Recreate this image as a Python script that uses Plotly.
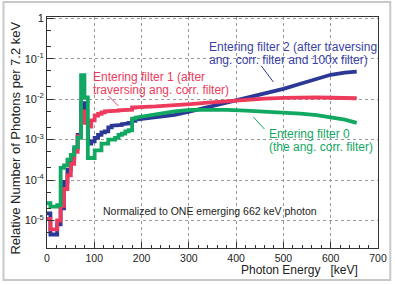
import plotly.graph_objects as go

# ---------------- data ----------------
# Low-energy histogram part: bin left edges [keV] and contents
step_edges = [0, 7.2, 14.4, 21.6, 28.8, 36.0, 43.2, 50.4, 57.6, 64.8, 72.0, 79.2, 86.4, 93.6,
              100.8, 108.0, 115.2, 122.4, 129.6, 136.8, 144.0, 151.2, 158.4, 165.6, 172.8, 180.0]

f0_steps = [2.7e-5, 2.2e-5, 2.2e-5, 2.4e-5, 2.0e-4, 2.3e-4, 3.2e-4, 4.2e-4, 6.5e-4, 1.1e-3, 3.9e-2, 1.1e-2,
            3.5e-4, 3.5e-4, 5.4e-4, 5.4e-4, 7.9e-4, 7.9e-4, 1.0e-3, 1.0e-3, 1.1e-3, 1.3e-3, 1.4e-3, 1.6e-3,
            1.7e-3, 3.3e-3]
f1_steps = [1.1e-5, 6.0e-6, 6.0e-6, 1.0e-5, 2.3e-5, 6.0e-5, 1.3e-4, 2.5e-4, 5.0e-4, 1.2e-3, 5.0e-3, 2.6e-3,
            2.1e-3, 3.0e-3, 3.9e-3, 4.3e-3, 4.7e-3, 5.0e-3, 5.1e-3, 5.2e-3, 5.2e-3, 5.3e-3, 5.3e-3, 5.4e-3,
            5.5e-3, 6.2e-3]
f2_steps = [1.5e-5, 4.5e-6, 4.5e-6, 8.0e-6, 2.0e-5, 9.0e-5, 1.8e-4, 3.5e-4, 6.0e-4, 1.3e-3, 8.0e-3, 2.8e-3,
            8.0e-4, 9.0e-4, 1.1e-3, 1.3e-3, 1.5e-3, 1.6e-3, 2.0e-3, 2.2e-3, 2.2e-3, 2.3e-3, 2.4e-3, 2.5e-3,
            2.6e-3, 2.9e-3]

# Higher-energy part (fine 7.2 keV bins, appear smooth)
smooth_E = [187.2, 230, 270, 303, 340, 380, 420, 460, 500, 536, 570, 600, 630, 655]
f0_smooth = [3.5e-3, 4.2e-3, 5.0e-3, 5.4e-3, 5.5e-3, 5.4e-3, 5.2e-3, 5.0e-3, 4.7e-3, 4.4e-3, 4.0e-3, 3.6e-3, 3.1e-3, 2.6e-3]
f1_smooth = [6.3e-3, 6.6e-3, 7.0e-3, 7.5e-3, 8.2e-3, 9.0e-3, 9.7e-3, 1.03e-2, 1.07e-2, 1.1e-2, 1.1e-2, 1.08e-2, 1.07e-2, 1.05e-2]
f2_smooth = [3.1e-3, 3.5e-3, 4.1e-3, 5.0e-3, 6.3e-3, 8.3e-3, 1.05e-2, 1.35e-2, 1.8e-2, 2.4e-2, 3.2e-2, 4.0e-2, 4.5e-2, 4.8e-2]

x_ticks = [0, 100, 200, 300, 400, 500, 600, 700]
y_tickvals = [1e-5, 1e-4, 1e-3, 1e-2, 1e-1, 1]
y_ticktext = ["10<sup>-5</sup>", "10<sup>-4</sup>", "10<sup>-3</sup>", "10<sup>-2</sup>", "10<sup>-1</sup>", "1"]

label_f1 = ["Entering filter 1 (after", "traversing ang. corr. filter)"]
label_f2 = ["Entering filter 2 (after traversing", "ang. corr. filter and 100x filter)"]
label_f0 = ["Entering filter 0", "(the ang. corr. filter)"]

BLUE = "#2b3896"
RED = "#ee3a5c"
GREEN = "#11a862"


def build(step_vals, smooth_vals):
    xs, ys = [], []
    for i, v in enumerate(step_vals):
        x0 = step_edges[i]
        x1 = step_edges[i + 1] if i + 1 < len(step_edges) else smooth_E[0]
        xs += [x0, x1]
        ys += [v, v]
    xs += smooth_E
    ys += smooth_vals
    return xs, ys


fig = go.Figure()
for vals, sm, col in [(f2_steps, f2_smooth, BLUE), (f1_steps, f1_smooth, RED), (f0_steps, f0_smooth, GREEN)]:
    xs, ys = build(vals, sm)
    fig.add_trace(go.Scatter(x=xs, y=ys, mode="lines", line=dict(color=col, width=3.8),
                             showlegend=False, hoverinfo="skip"))

L, R, T, B = 46.5, 17.3, 17, 37
W, H = 395, 285
pw, ph = W - L - R, H - T - B


def px(xp):
    return (xp - L) / pw


def py(yp):
    return (H - B - yp) / ph


font = "Liberation Sans, Arial, sans-serif"

fig.update_layout(
    width=W, height=H,
    margin=dict(l=L, r=R, t=T, b=B, autoexpand=False),
    paper_bgcolor="white", plot_bgcolor="white",
    font=dict(family=font, size=11, color="#222"),
    xaxis=dict(range=[0, 700], tickvals=x_ticks, ticks="inside", ticklen=6, tickcolor="#333",
               showline=True, linecolor="#333", linewidth=1, mirror=True,
               showgrid=True, gridcolor="#999", griddash="dot", gridwidth=1,
               minor=dict(dtick=20, ticks="inside", ticklen=3, tickcolor="#333", showgrid=False),
               zeroline=False, tickfont=dict(size=10.5, color="#222")),
    yaxis=dict(type="log", range=[-5.68, 0.03], tickvals=y_tickvals, ticktext=y_ticktext,
               ticks="inside", ticklen=7, tickcolor="#333",
               showline=True, linecolor="#333", linewidth=1, mirror=True,
               showgrid=True, gridcolor="#999", griddash="dot", gridwidth=1,
               minor=dict(ticks="inside", ticklen=4, tickcolor="#333", showgrid=False),
               zeroline=False, tickfont=dict(size=11, color="#222")),
)

ann = []
ann.append(dict(x=px(14), y=py(138), xref="paper", yref="paper", text="Relative Number of Photons per 7.2 keV",
                textangle=-90, showarrow=False, font=dict(size=13, color="#222"), xanchor="center", yanchor="middle"))
ann.append(dict(x=px(360), y=py(270), xref="paper", yref="paper", text="Photon Energy   [keV]",
                showarrow=False, font=dict(size=12, color="#222"), xanchor="right", yanchor="middle"))
ann.append(dict(x=px(101), y=py(211), xref="paper", yref="paper", text="Normalized to ONE emerging 662 keV photon",
                showarrow=False, font=dict(size=10.5, color="#222"), xanchor="left", yanchor="middle"))

for lines, x0, ys, col in [(label_f1, 91, (77, 89.5), RED),
                            (label_f2, 207, (47, 60), "#3a3fa6"),
                            (label_f0, 267, (134, 147), GREEN)]:
    for t, yy in zip(lines, ys):
        ann.append(dict(x=px(x0), y=py(yy), xref="paper", yref="paper", text=t,
                        showarrow=False, font=dict(size=12, color=col), xanchor="left", yanchor="middle"))
fig.update_layout(annotations=ann)

shapes = []
# pointer lines
for (a, b, c, d, col) in [(108, 96, 118, 106, RED), (261, 66, 273, 82, BLUE), (253, 117, 264, 129, GREEN)]:
    shapes.append(dict(type="line", xref="paper", yref="paper", x0=px(a), y0=py(b), x1=px(c), y1=py(d),
                       line=dict(color=col, width=1)))
# outer light border
shapes.append(dict(type="rect", xref="paper", yref="paper", x0=px(3), y0=py(280), x1=px(390), y1=py(2),
                   line=dict(color="#c8c8c8", width=2), layer="below"))
fig.update_layout(shapes=shapes)

fig.write_html("out.html", config={"displayModeBar": False},
               post_script="document.body.style.margin='0';document.body.style.padding='0';")
